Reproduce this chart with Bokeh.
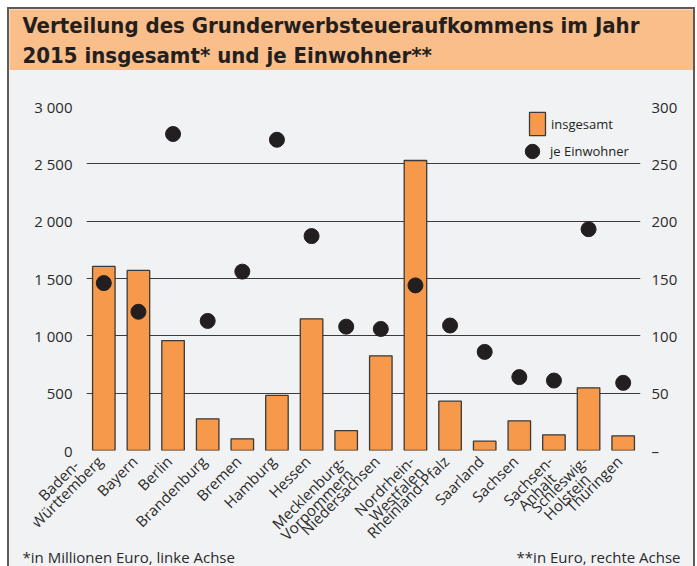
import math
from bokeh.plotting import figure
from bokeh.models import (Range1d, FactorRange, LinearAxis, FixedTicker, Legend,
                          LegendItem, Label, ColumnDataSource)
from bokeh.layouts import column, row
from bokeh.core.properties import value
from bokeh.embed import file_html
from bokeh.resources import INLINE

# ---------------- data ----------------
laender = ["Baden-\nWürttemberg", "Bayern", "Berlin", "Brandenburg", "Bremen",
           "Hamburg", "Hessen", "Mecklenburg-\nVorpommern", "Niedersachsen",
           "Nordrhein-\nWestfalen", "Rheinland-Pfalz", "Saarland", "Sachsen",
           "Sachsen-\nAnhalt", "Schleswig-\nHolstein", "Thüringen"]
insgesamt = [1605, 1570, 959, 276, 102, 480, 1148, 174, 826, 2529, 430, 81,
             259, 137, 547, 128]
je_einwohner = [146, 121, 276, 113, 156, 271, 187, 108, 106, 144, 109, 86,
                64, 61, 193, 59]
left_ticks = [0, 500, 1000, 1500, 2000, 2500, 3000]
left_tick_labels = ["0", "500", "1 000", "1 500", "2 000", "2 500", "3 000"]
right_ticks = [0, 50, 100, 150, 200, 250, 300]
right_tick_labels = ["–", "50", "100", "150", "200", "250", "300"]

title_1 = "Verteilung des Grunderwerbsteueraufkommens im Jahr"
title_2 = "2015 insgesamt* und je Einwohner**"
note_left = "*in Millionen Euro, linke Achse"
note_right = "**in Euro, rechte Achse"

FONT = "Open Sans"
TXT = "#2a2a2a"
BG = "#F1F2F4"
ORANGE_HEAD = "#F9BE8A"
BORDER = "#5b5b5b"
W = 684                 # width of every figure
MAIN_H = 494
BORDER_L, BORDER_R = 77, 53     # main chart margins -> frame 554 px wide
BELOW = 116                      # space under the frame (labels + notes)


def blank(h, color, alpha=1.0, x_range=None, y_range=None, ml=0, mr=0):
    f = figure(width=W, height=h,
               x_range=x_range if x_range is not None else Range1d(0, 1),
               y_range=y_range if y_range is not None else Range1d(0, 1),
               toolbar_location=None, output_backend="svg",
               x_axis_location=None, y_axis_location=None,
               min_border_left=ml, min_border_right=mr, min_border_top=0,
               min_border_bottom=0, min_border=0,
               background_fill_color=color, border_fill_color=color,
               background_fill_alpha=alpha, border_fill_alpha=alpha,
               outline_line_color=None)
    f.grid.visible = False
    return f


# ---------------- header ----------------
header = blank(61, ORANGE_HEAD)
for txt, yy in ((title_1, 45), (title_2, 15)):
    header.add_layout(Label(x=13, y=yy, x_units="screen", y_units="screen",
                            text=txt, text_font="DejaVu Sans Condensed",
                            text_font_size="22px", text_font_style="bold",
                            text_color="#231F20", text_baseline="alphabetic"))

separator = blank(2, BORDER)

# ---------------- main chart ----------------
src = ColumnDataSource(dict(land=laender, insgesamt=insgesamt,
                            je_einwohner=je_einwohner))

p = figure(x_range=laender, y_range=Range1d(0, 3000), width=W, height=MAIN_H,
           toolbar_location=None, output_backend="svg",
           x_axis_location=None,
           min_border_left=BORDER_L, min_border_right=BORDER_R, min_border_top=34,
           min_border_bottom=BELOW,
           background_fill_color=BG, border_fill_color=BG,
           outline_line_color=None)
p.extra_y_ranges = {"right": Range1d(0, 300)}

bars = p.vbar(x="land", top="insgesamt", source=src, width=0.65,
              fill_color="#F7994A", line_color="#3a3a3a", line_width=1.3)
dots = p.scatter(x="land", y="je_einwohner", source=src, y_range_name="right",
                 size=15, fill_color="#231F20", line_color="#231F20")

p.xgrid.visible = False
p.ygrid.ticker = FixedTicker(ticks=left_ticks)
p.ygrid.grid_line_color = "#3b3b3b"
p.ygrid.grid_line_width = 1.2

left = p.left[0]
left.ticker = FixedTicker(ticks=left_ticks)
left.major_label_overrides = dict(zip(left_ticks, left_tick_labels))

right = LinearAxis(y_range_name="right", ticker=FixedTicker(ticks=right_ticks),
                   major_label_overrides=dict(zip(right_ticks, right_tick_labels)))
p.add_layout(right, "right")

for ax, so in ((left, 14), (right, 11)):
    ax.axis_line_color = None
    ax.major_tick_line_color = None
    ax.minor_tick_line_color = None
    ax.major_tick_in = 0
    ax.major_tick_out = 0
    ax.major_label_standoff = so
    ax.major_label_text_font = FONT
    ax.major_label_text_font_size = "15px"
    ax.major_label_text_color = TXT

leg1 = Legend(items=[LegendItem(label="insgesamt", renderers=[bars])],
              location=(441, 312), background_fill_alpha=0, border_line_color=None,
              label_text_font=FONT, label_text_font_size="13px",
              label_text_color="#231F20", glyph_width=20, glyph_height=29,
              label_height=29, label_standoff=4, padding=0, margin=0)
leg2 = Legend(items=[LegendItem(label="je Einwohner", renderers=[dots])],
              location=(428, 281), background_fill_alpha=0, border_line_color=None,
              label_text_font=FONT, label_text_font_size="13px",
              label_text_color="#231F20", glyph_width=36, glyph_height=36,
              label_height=36, label_standoff=0, padding=0, margin=0)
p.add_layout(leg1, "center")
p.add_layout(leg2, "center")

# ---------------- category labels (transparent overlay below the frame) --------
# The overlay frame is wider than the chart frame (labels reach far to the left);
# it is centred on the chart frame so the same factors land on the same pixels.
OV_L = 24
frame_w = W - BORDER_L - BORDER_R
cat_w = frame_w / len(laender)
half = BORDER_L + frame_w / 2 - OV_L
pad_each_side = (half - frame_w / 2) / cat_w
lab_fig = blank(BELOW, BG, alpha=0.0,
                x_range=FactorRange(factors=laender, range_padding=pad_each_side,
                                    range_padding_units="absolute"),
                y_range=Range1d(-BELOW, 0), ml=OV_L, mr=0)

NARROW = set("iljtfr-I")
WIDE = set("mwMW")


def text_w(s, size=15):
    w = 0.0
    for ch in s:
        if ch in NARROW:
            w += 0.33
        elif ch in WIDE:
            w += 0.88
        elif ch.isupper():
            w += 0.66
        else:
            w += 0.56
    return w * size


c45 = math.cos(math.pi / 4)
LINE = 14.0
BASE_DX, BASE_DY = -4, 8

main_x, main_t = [], []
sec_x, sec_t, sec_dx, sec_dy = [], [], [], []
for name in laender:
    parts = name.split("\n")
    if len(parts) == 1:
        main_x.append(name)
        main_t.append(name)
        continue
    a, b = parts
    la, lb = text_w(a), text_w(b)
    t = abs(la - lb) / 2
    if la >= lb:      # upper line longest: it sits at the usual place
        main_x.append(name); main_t.append(a)
        sec_x.append(name); sec_t.append(b)
        sec_dx.append(BASE_DX + c45 * LINE - c45 * t)
        sec_dy.append(BASE_DY + c45 * LINE + c45 * t)
    else:             # lower line longest
        main_x.append(name); main_t.append(b)
        sec_x.append(name); sec_t.append(a)
        sec_dx.append(BASE_DX - c45 * LINE - c45 * t)
        sec_dy.append(BASE_DY - c45 * LINE + c45 * t)

lab_main = ColumnDataSource(dict(x=main_x, y=[0] * len(main_x), text=main_t))
lab_sec = ColumnDataSource(dict(x=sec_x, y=[0] * len(sec_x), text=sec_t,
                                dx=sec_dx, dy=sec_dy))
common = dict(angle=math.pi / 4, text_align="right", text_baseline="middle",
              text_font=value(FONT), text_font_size=value("15px"),
              text_color=TXT)
lab_fig.text(x="x", y="y", text="text", source=lab_main, x_offset=BASE_DX,
             y_offset=BASE_DY, **common)
lab_fig.text(x="x", y="y", text="text", source=lab_sec, x_offset="dx",
             y_offset="dy", **common)

# ---------------- footnotes (transparent overlay) ----------------
footer = blank(26, BG, alpha=0.0)
footer.add_layout(Label(x=13, y=10, x_units="screen", y_units="screen",
                        text=note_left, text_font=FONT, text_font_size="15px",
                        text_color=TXT, text_baseline="alphabetic"))
footer.add_layout(Label(x=671, y=10, x_units="screen", y_units="screen",
                        text=note_right, text_font=FONT, text_font_size="15px",
                        text_color=TXT, text_baseline="alphabetic",
                        text_align="right"))

layout = column(row(header), separator, p,
                row(lab_fig, margin=(-BELOW, 0, 0, 0)),
                row(footer, margin=(-26, 0, 0, 0)),
                spacing=0, margin=(7, 0, 0, 7),
                styles={"border-left": f"2px solid {BORDER}",
                        "border-right": f"2px solid {BORDER}",
                        "border-top": f"2px solid {BORDER}",
                        "background-color": BG})

open("out.html", "w").write(file_html(layout, INLINE))
